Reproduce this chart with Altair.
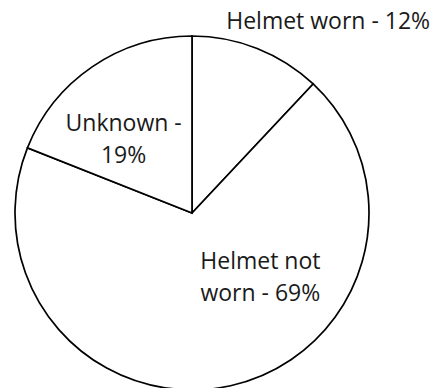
import altair as alt
import pandas as pd

categories = ["Helmet worn", "Helmet not worn", "Unknown"]
values = [12, 69, 19]
labels = ["Helmet worn - 12%", "Helmet not\nworn - 69%", "Unknown -\n19%"]

df = pd.DataFrame({
    "category": categories,
    "value": values,
    "label": labels,
    "order": list(range(len(categories))),
})

base = alt.Chart(df).encode(
    theta=alt.Theta("value:Q", stack=True),
    order=alt.Order("order:Q", sort="ascending"),
)

pie = base.mark_arc(outerRadius=177, fill="white", stroke="black", strokeWidth=1.7)

def label_layer(cat, radius, dx, dy):
    return base.mark_text(
        radius=radius, dx=dx, dy=dy, font="Open Sans", fontSize=23,
        color="#1a1a1a", lineBreak="\n", lineHeight=32, align="center", baseline="middle",
    ).encode(
        text=alt.condition(alt.datum.category == cat, alt.Text("label:N"), alt.value(""))
    )

chart = alt.layer(
    pie,
    label_layer("Helmet worn", 234, 50, 27),
    label_layer("Helmet not worn", 98, 47, -47),
    label_layer("Unknown", 95, -15, -10),
).properties(
    width=384, height=354,
    padding={"left": 0, "top": 36, "right": 49, "bottom": 0},
    autosize=alt.AutoSizeParams(type="none"),
).configure_view(stroke=None).configure(background="white")

chart.save("out.html", embed_options={"renderer": "svg", "actions": False})
